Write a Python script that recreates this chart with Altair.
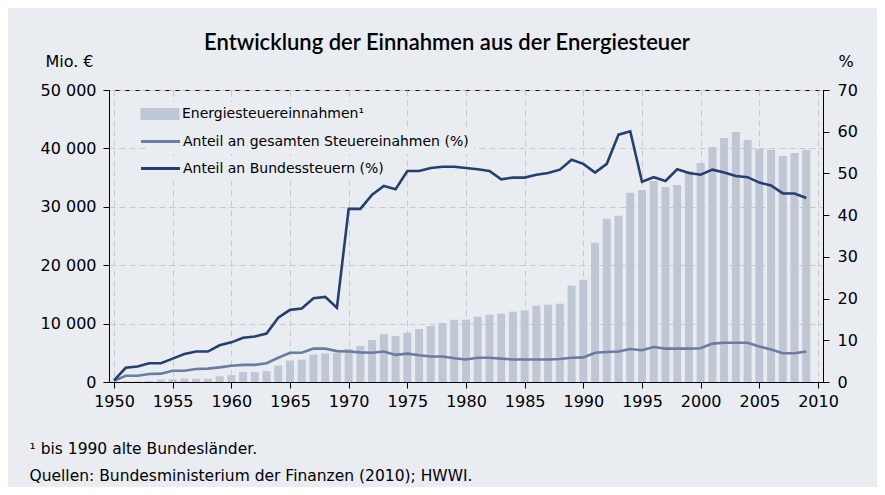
import altair as alt
import pandas as pd

years = list(range(1950, 2010))

energiesteuer = [60, 90, 110, 140, 420, 460, 570, 570, 570, 970, 1170, 1690, 1690, 1860, 2840,
                 3670, 3820, 4700, 4900, 4980, 5690, 6160, 7190, 8220, 7870, 8450, 9070, 9590, 10100, 10650,
                 10670, 11180, 11530, 11700, 12040, 12270, 13070, 13240, 13410, 16490, 17520, 23850, 27960, 28470, 32410,
                 32870, 34420, 33390, 33730, 36130, 37500, 40230, 41770, 42800, 41430, 39900, 39750, 38690, 39200, 39750]

anteil_gesamt = [0.3, 1.5, 1.5, 1.9, 2.0, 2.7, 2.7, 3.1, 3.2, 3.5, 3.9, 4.1, 4.1, 4.5, 5.8,
                 7.0, 7.0, 8.0, 8.0, 7.4, 7.3, 7.1, 7.0, 7.3, 6.5, 6.8, 6.4, 6.1, 6.1, 5.7,
                 5.4, 5.8, 5.8, 5.6, 5.4, 5.4, 5.4, 5.4, 5.5, 5.8, 5.9, 7.0, 7.2, 7.3, 7.9,
                 7.6, 8.4, 8.0, 8.0, 8.0, 8.1, 9.2, 9.4, 9.4, 9.4, 8.5, 7.8, 6.9, 6.9, 7.3]

anteil_bund = [0.4, 3.4, 3.7, 4.5, 4.5, 5.6, 6.7, 7.3, 7.3, 8.8, 9.5, 10.6, 10.9, 11.6, 15.4,
               17.3, 17.6, 20.1, 20.4, 17.8, 41.5, 41.5, 44.9, 47.0, 46.2, 50.6, 50.6, 51.3, 51.6, 51.6,
               51.3, 51.0, 50.6, 48.6, 49.0, 49.0, 49.7, 50.1, 50.9, 53.3, 52.3, 50.2, 52.3, 59.3, 60.1,
               48.0, 49.1, 48.2, 51.0, 50.1, 49.7, 50.9, 50.2, 49.4, 49.1, 47.8, 47.1, 45.2, 45.2, 44.1]

bar_label = "Energiesteuereinnahmen¹"
gesamt_label = "Anteil an gesamten Steuereinahmen (%)"
bund_label = "Anteil an Bundessteuern (%)"

left_ticks = [0, 10000, 20000, 30000, 40000, 50000]
right_ticks = [0, 10, 20, 30, 40, 50, 60, 70]
x_ticks = list(range(1950, 2011, 5))

title_text = "Entwicklung der Einnahmen aus der Energiesteuer"
footnotes = ["¹ bis 1990 alte Bundesländer.", "Quellen: Bundesministerium der Finanzen (2010); HWWI."]

BG = "#e9ecf1"
BAR = "#bfc6d4"
GRAY = "#6b7ca2"
NAVY = "#263f72"
FONT = "DejaVu Sans"
TFONT = "Lato"

bars_df = pd.DataFrame({"Jahr": years, "Wert": energiesteuer, "Reihe": bar_label})
gesamt_df = pd.DataFrame({"Jahr": years, "Anteil": anteil_gesamt, "Reihe": gesamt_label})
bund_df = pd.DataFrame({"Jahr": years, "Anteil": anteil_bund, "Reihe": bund_label})

x_enc = alt.X(
    "Jahr:Q",
    scale=alt.Scale(domain=[1950, 2010], nice=False, zero=False),
    axis=alt.Axis(
        values=x_ticks, format="d", grid=True, gridDash=[6, 4], gridColor="#c8c9cc",
        domainColor="black", tickColor="black", tickSize=6, labelPadding=5,
        labelFontSize=16, labelFont=FONT, labelColor="black",
        title=footnotes, titleFont=FONT, titleFontSize=15.5, titleFontWeight="normal",
        titleColor="black", titleAlign="left", titleAnchor="start", titleBaseline="alphabetic",
        titleX=-80, titleY=71, titleLineHeight=27,
    ),
)

y_right = alt.Y(
    "Anteil:Q",
    scale=alt.Scale(domain=[0, 70], nice=False),
    axis=alt.Axis(
        orient="right", values=right_ticks, grid=False,
        domainColor="black", tickColor="black", tickSize=6, labelPadding=8,
        labelFontSize=16, labelFont=FONT, labelColor="black",
        title="%", titleAngle=0, titleAlign="left", titleBaseline="middle",
        titleX=15, titleY=-29, titleFont=FONT, titleFontSize=16,
        titleFontWeight="normal", titleColor="black",
    ),
)


def line_legend(y):
    return alt.Legend(
        title=None, orient="none", legendX=39, legendY=y,
        symbolType="M-3.25,0H3.25", symbolSize=144, symbolStrokeWidth=3,
        symbolFillColor="transparent",
        labelFont=FONT, labelFontSize=14, labelColor="black",
        labelOffset=15, labelLimit=500, fillColor=BG, padding=5,
    )


bars = alt.Chart(bars_df).mark_bar(size=8, clip=True).encode(
    x=x_enc,
    y=alt.Y(
        "Wert:Q",
        scale=alt.Scale(domain=[0, 50000], nice=False),
        axis=alt.Axis(
            orient="left", values=left_ticks,
            labelExpr="replace(format(datum.value, ',d'), ',', ' ')",
            grid=True, gridDash=[6, 4], gridColor="#c8c9cc",
            domainColor="black", tickColor="black", tickSize=6, labelPadding=7,
            labelFontSize=16, labelFont=FONT, labelColor="black",
            title="Mio. €", titleAngle=0, titleAlign="right", titleBaseline="middle",
            titleX=-16, titleY=-29, titleFont=FONT, titleFontSize=16,
            titleFontWeight="normal", titleColor="black",
        ),
    ),
    fill=alt.Fill(
        "Reihe:N",
        scale=alt.Scale(domain=[bar_label], range=[BAR]),
        legend=alt.Legend(
            title=None, orient="none", legendX=39, legendY=12,
            symbolType="M-3.25,-1H3.25V1H-3.25Z", symbolSize=144, symbolStrokeWidth=0,
            symbolOpacity=1, labelFont=FONT, labelFontSize=14, labelColor="black",
            labelOffset=15, labelLimit=500, fillColor=BG, padding=5,
        ),
    ),
)

gesamt_line = alt.Chart(gesamt_df).mark_line(strokeWidth=2.6, clip=True).encode(
    x=alt.X("Jahr:Q"),
    y=y_right,
    stroke=alt.Stroke("Reihe:N", scale=alt.Scale(domain=[gesamt_label], range=[GRAY]),
                      legend=line_legend(39)),
)

bund_line = alt.Chart(bund_df).mark_line(strokeWidth=2.6, clip=True).encode(
    x=alt.X("Jahr:Q"),
    y=y_right,
    stroke=alt.Stroke("Reihe:N", scale=alt.Scale(domain=[bund_label], range=[NAVY]),
                      legend=line_legend(66)),
)

lines = alt.layer(gesamt_line, bund_line).resolve_scale(stroke="independent")

chart = alt.layer(bars, lines).resolve_scale(
    y="independent", fill="independent", stroke="independent"
).properties(
    width=714, height=292,
    autosize=alt.AutoSizeParams(type="none"),
    padding={"left": 101, "top": 82, "right": 54, "bottom": 105},
    background=BG,
    title=alt.TitleParams(
        text=title_text, font=TFONT, fontSize=22, fontWeight=600, color="black",
        anchor="middle", dx=-19, offset=-2,
    ),
).configure_view(stroke="black", strokeWidth=1)

chart.save("out.html", embed_options={"renderer": "svg", "actions": False})
